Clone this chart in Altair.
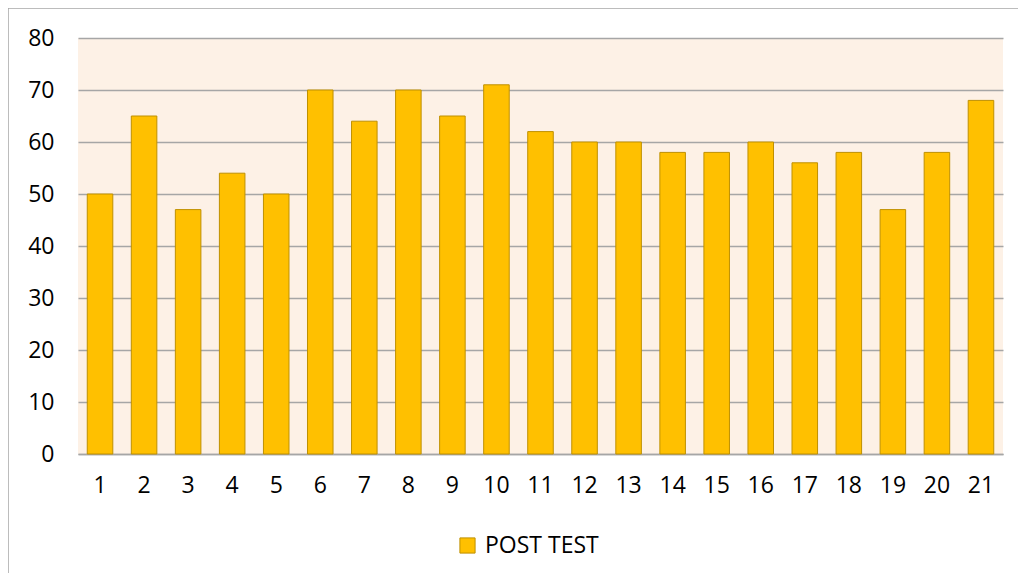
import altair as alt
import pandas as pd

students = [str(i) for i in range(1, 22)]
scores = [50, 65, 47, 54, 50, 70, 64, 70, 65, 71, 62, 60, 60, 58, 58, 60, 56, 58, 47, 58, 68]
series = ["POST TEST"] * len(students)

df = pd.DataFrame({"student": students, "score": scores, "series": series})

FONT = "Open Sans"
FS = 23
W, H = 925, 416

bars = alt.Chart(df).mark_bar(stroke="#BF9000", strokeWidth=1).encode(
    x=alt.X("student:N", sort=students, title=None,
            scale=alt.Scale(paddingInner=0.42, paddingOuter=0.21),
            axis=alt.Axis(labelAngle=0, labelFontSize=FS, labelFont=FONT, labelColor="#000000",
                          ticks=False, domainColor="#A6A6A6", domainWidth=1.5, labelPadding=20)),
    y=alt.Y("score:Q", title=None,
            scale=alt.Scale(domain=[0, 80], nice=False),
            axis=alt.Axis(values=list(range(0, 81, 10)), labelFontSize=FS, labelFont=FONT,
                          labelColor="#000000", ticks=False, domain=False, grid=True,
                          gridColor="#A6A6A6", gridWidth=1.5, labelPadding=24)),
    color=alt.Color("series:N", title=None,
                    scale=alt.Scale(domain=["POST TEST"], range=["#FFC000"]),
                    legend=alt.Legend(orient="none", legendX=378, legendY=496,
                                      symbolType="square", symbolSize=230,
                                      symbolStrokeColor="#BF9000", symbolStrokeWidth=1,
                                      labelFontSize=FS, labelFont=FONT, labelColor="#000000",
                                      labelOffset=6)),
)

border = alt.Chart(pd.DataFrame({"k": [0]})).mark_rect(
    fill=None, stroke="#A6A6A6", strokeWidth=1.5
).encode(
    x=alt.value(-70), x2=alt.value(1100), y=alt.value(-30), y2=alt.value(700)
)

chart = alt.layer(bars, border).properties(
    width=W, height=H,
    background="#FFFFFF",
    autosize=alt.AutoSizeParams(type="none"),
    padding={"left": 70, "top": 30, "right": 15, "bottom": 119},
).configure_view(fill="#FDF1E6", stroke=None)

chart.save("out.html", embed_options={"renderer": "svg", "actions": False})
